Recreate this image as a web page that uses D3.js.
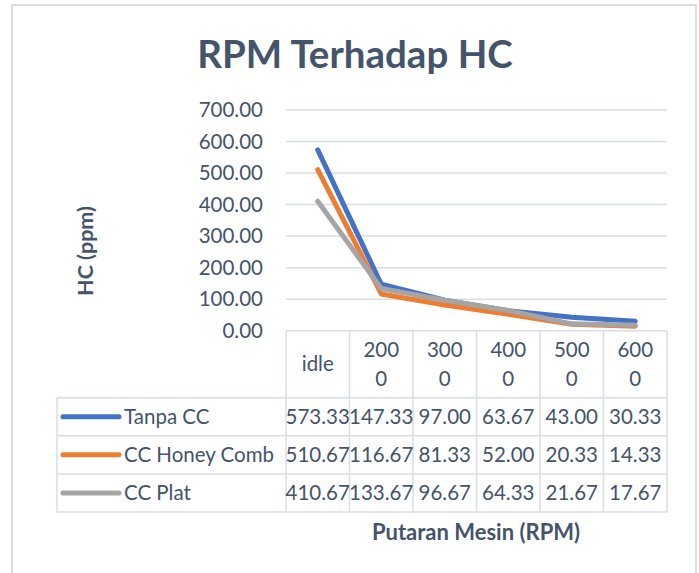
<!DOCTYPE html>
<html><head><meta charset="utf-8">
<script src="https://cdn.jsdelivr.net/npm/d3@7"></script>
<style>body{margin:0;background:#fff}svg{display:block}text{font-family:Lato,"Open Sans",sans-serif}</style>
</head><body><svg id="c" width="699" height="573"></svg>
<script>
const categories = ["idle","2000","3000","4000","5000","6000"];
const seriesNames = ["Tanpa CC","CC Honey Comb","CC Plat"];
const tanpaCC = [573.33,147.33,97.00,63.67,43.00,30.33];
const ccHoneyComb = [510.67,116.67,81.33,52.00,20.33,14.33];
const ccPlat = [410.67,133.67,96.67,64.33,21.67,17.67];
const yTicks = [0,100,200,300,400,500,600,700];
const colors = ["#4472c4","#ed7d31","#a5a5a5"];
const title = "RPM Terhadap HC", yTitle = "HC (ppm)", xTitle = "Putaran Mesin (RPM)";

const series = [tanpaCC, ccHoneyComb, ccPlat];
const svg = d3.select("#c");
const txt = "#44546a", grid = "#d9dde6";
const pLeft = 286, pRight = 667, pTop = 110, pBottom = 330.7;
const x = d3.scaleBand().domain(categories).range([pLeft, pRight]);
const y = d3.scaleLinear().domain([0,700]).range([pBottom, pTop]);

// outer frame
svg.append("rect").attr("x",12).attr("y",5).attr("width",684).attr("height",600)
  .attr("fill","#fff").attr("stroke",grid).attr("stroke-width",2);

svg.append("text").attr("x",355).attr("y",68).attr("text-anchor","middle")
  .attr("font-size",38.5).attr("font-weight","bold").attr("fill",txt).text(title);

// gridlines
svg.append("g").selectAll("line").data(yTicks.filter(d=>d>0)).join("line")
  .attr("x1",pLeft).attr("x2",pRight).attr("y1",d=>y(d)).attr("y2",d=>y(d))
  .attr("stroke",grid).attr("stroke-width",1.5);

// y axis labels
const ya = svg.append("g").attr("transform",`translate(${pLeft},0)`)
  .call(d3.axisLeft(y).tickValues(yTicks).tickFormat(d3.format(".2f")).tickSize(0).tickPadding(23));
ya.select(".domain").remove();
ya.selectAll("text").attr("font-size",20.5).attr("fill",txt).attr("font-family","Lato");

svg.append("text").attr("transform","translate(93,251) rotate(-90)").attr("text-anchor","middle")
  .attr("font-size",21.5).attr("font-weight","bold").attr("fill",txt).text(yTitle);

// table
const rowTop = 397.7, rowH = 38.1, legLeft = 57;
const tg = svg.append("g").attr("stroke",grid).attr("stroke-width",1.5);
tg.append("line").attr("x1",pLeft).attr("x2",pRight).attr("y1",pBottom).attr("y2",pBottom);
for (let i=0;i<=series.length;i++){
  tg.append("line").attr("x1",legLeft).attr("x2",pRight).attr("y1",rowTop+i*rowH).attr("y2",rowTop+i*rowH);
}
const bounds = categories.map(c=>x(c)).concat([pRight]);
bounds.forEach(b=>tg.append("line").attr("x1",b).attr("x2",b).attr("y1",pBottom).attr("y2",rowTop+series.length*rowH));
tg.append("line").attr("x1",legLeft).attr("x2",legLeft).attr("y1",rowTop).attr("y2",rowTop+series.length*rowH);

// header labels (numeric labels wrap after 3 characters, as in the reference)
categories.forEach(c=>{
  const cx = x(c)+x.bandwidth()/2;
  const lines = !isNaN(+c) && c.length>3 ? [c.slice(0,3), c.slice(3)] : [c];
  const t = svg.append("text").attr("text-anchor","middle").attr("font-size",20.5).attr("fill",txt);
  if (lines.length===1) t.append("tspan").attr("x",cx).attr("y",371).text(lines[0]);
  else lines.forEach((l,i)=>t.append("tspan").attr("x",cx).attr("y",357+i*28.5).text(l));
});

// rows
series.forEach((s,i)=>{
  const cy = rowTop + i*rowH + rowH/2;
  svg.append("line").attr("x1",63).attr("x2",119).attr("y1",cy).attr("y2",cy)
    .attr("stroke",colors[i]).attr("stroke-width",5).attr("stroke-linecap","round");
  svg.append("text").attr("x",124).attr("y",cy+7).attr("font-size",20.5).attr("fill",txt).text(seriesNames[i]);
  s.forEach((v,j)=>{
    svg.append("text").attr("x",x(categories[j])+x.bandwidth()/2).attr("y",cy+7)
      .attr("text-anchor","middle").attr("font-size",20.5).attr("fill",txt).text(d3.format(".2f")(v));
  });
});

// lines
const line = d3.line().x((d,j)=>x(categories[j])+x.bandwidth()/2).y(d=>y(d));
series.forEach((s,i)=>{
  svg.append("path").datum(s).attr("d",line).attr("fill","none").attr("stroke",colors[i])
    .attr("stroke-width",5).attr("stroke-linecap","round").attr("stroke-linejoin","round");
});

svg.append("text").attr("x",476).attr("y",540).attr("text-anchor","middle")
  .attr("font-size",22).attr("font-weight","bold").attr("fill",txt).text(xTitle);
</script></body></html>
